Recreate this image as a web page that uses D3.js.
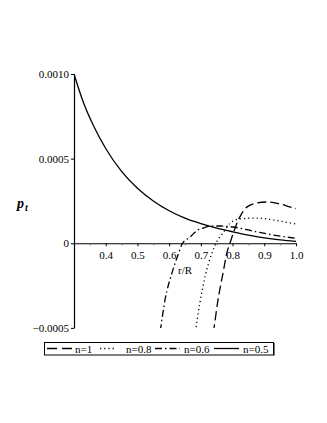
<!DOCTYPE html>
<html lang="en">
<head>
    <meta charset="UTF-8">
    <title>p_t versus r/R</title>
    <script src="https://d3js.org/d3.v7.min.js"></script>
    <style>
        body { margin: 0; background: #fff; }
        text { font-family: "Liberation Serif", "Times New Roman", serif; }
    </style>
</head>
<body>
    <div id="chart"></div>

    <script>
        // Data (p_t values)
        var rSolid = [0.30, 0.33, 0.36, 0.40, 0.45, 0.50, 0.55, 0.60, 0.65, 0.70, 0.75, 0.80, 0.85, 0.90, 0.95, 1.0];
        var pSolid = [0.001, 0.00083, 0.00070, 0.00056, 0.000425, 0.000325, 0.000250, 0.000192, 0.000148, 0.000116, 0.000090, 0.000068, 0.000048, 0.000032, 0.000020, 0.000011];

        var rDash = [0.739, 0.7415, 0.754, 0.770, 0.782, 0.792, 0.808, 0.823, 0.846, 0.877, 0.912, 0.950, 0.991, 1.0];
        var pDash = [-0.00053, -0.000500, -0.000335, -0.000175, -0.000057, 0.000002, 0.000090, 0.000156, 0.000215, 0.000238, 0.000244, 0.000232, 0.000209, 0.000205];

        var rDot = [0.683, 0.697, 0.713, 0.735, 0.748, 0.770, 0.792, 0.823, 0.877, 0.928, 0.981, 1.0];
        var pDot = [-0.00052, -0.000352, -0.000199, -0.000057, 0.000002, 0.000061, 0.000118, 0.000144, 0.000149, 0.000138, 0.000120, 0.000114];

        var rDashDot = [0.572, 0.587, 0.609, 0.628, 0.641, 0.666, 0.691, 0.707, 0.738, 0.760, 0.801, 0.877, 0.928, 0.981, 1.0];
        var pDashDot = [-0.00052, -0.000335, -0.000175, -0.000069, -0.000004, 0.000037, 0.000079, 0.000090, 0.000102, 0.000102, 0.000096, 0.000067, 0.000049, 0.000034, 0.000030];

        var seriesNames = ["n=1", "n=0.8", "n=0.6", "n=0.5"];
        var xTicks = [0.4, 0.5, 0.6, 0.7, 0.8, 0.9, 1.0];
        var xMinorTicks = [0.35, 0.45, 0.55, 0.65, 0.75, 0.85, 0.95];
        var yTicks = [-0.0005, 0, 0.0005, 0.001];
        var yTickLabels = ["\u22120.0005", "0", "0.0005", "0.0010"];

        var width = 327, height = 423;
        var svg = d3.select("#chart").append("svg")
            .attr("width", width)
            .attr("height", height);

        svg.append("rect").attr("width", width).attr("height", height).attr("fill", "#fff");

        var x = d3.scaleLinear().domain([0.3, 1.0]).range([74, 296]);
        var y = d3.scaleLinear().domain([-0.0005, 0.001]).range([327.9, 74]);

        // clip to the view range
        svg.append("clipPath").attr("id", "plot-clip")
            .append("rect")
            .attr("x", x(0.3)).attr("y", y(0.001) - 1)
            .attr("width", x(1.0) - x(0.3) + 1)
            .attr("height", y(-0.0005) - y(0.001) + 1);

        // x axis at p = 0
        var xAxis = svg.append("g")
            .attr("transform", "translate(0," + y(0) + ")")
            .call(d3.axisBottom(x).tickValues(xTicks).tickSize(3).tickSizeOuter(0).tickPadding(5)
                .tickFormat(d3.format(".1f")));
        xAxis.select(".domain").attr("stroke-width", 1.2);
        xAxis.selectAll("text").attr("font-size", 11).attr("font-family", "Liberation Serif");

        svg.append("g")
            .attr("transform", "translate(0," + y(0) + ")")
            .call(d3.axisBottom(x).tickValues(xMinorTicks).tickSize(2).tickSizeOuter(0).tickFormat(""))
            .call(function (g) { g.selectAll("line").attr("stroke", "#666"); })
            .select(".domain").remove();

        // y axis
        var yAxis = svg.append("g")
            .attr("transform", "translate(" + x(0.3) + ",0)")
            .call(d3.axisLeft(y).tickValues(yTicks).tickSize(3).tickSizeOuter(0).tickPadding(2)
                .tickFormat(function (d, i) { return yTickLabels[i]; }));
        yAxis.select(".domain").attr("stroke-width", 1.2);
        yAxis.selectAll("text").attr("font-size", 11).attr("font-family", "Liberation Serif");

        // axis titles
        svg.append("text")
            .attr("x", 178).attr("y", 274)
            .attr("font-size", 11)
            .text("r/R");

        var pLabel = svg.append("text")
            .attr("x", 17).attr("y", 208)
            .attr("font-size", 14)
            .attr("font-weight", "bold")
            .attr("font-style", "italic");
        pLabel.append("tspan").text("p");
        pLabel.append("tspan").attr("font-size", 10).attr("dx", 1).attr("dy", 3).text("t");

        // curves
        var curves = [
            { r: rDash, p: pDash, dash: "9,4" },
            { r: rDot, p: pDot, dash: "1.2,3" },
            { r: rDashDot, p: pDashDot, dash: "7,3,1.5,3" },
            { r: rSolid, p: pSolid, dash: null }
        ];

        var line = d3.line()
            .x(function (d) { return x(d[0]); })
            .y(function (d) { return y(d[1]); })
            .curve(d3.curveMonotoneX);

        var plot = svg.append("g").attr("clip-path", "url(#plot-clip)");
        curves.forEach(function (c) {
            plot.append("path")
                .datum(d3.zip(c.r, c.p))
                .attr("fill", "none")
                .attr("stroke", "#000")
                .attr("stroke-width", 1.3)
                .attr("stroke-dasharray", c.dash)
                .attr("d", line);
        });

        // legend
        var legend = svg.append("g");
        legend.append("rect")
            .attr("x", 44.5).attr("y", 342.5)
            .attr("width", 229).attr("height", 12.5)
            .attr("fill", "#fff").attr("stroke", "#000").attr("stroke-width", 1);
        legend.append("line")
            .attr("x1", 274.5).attr("x2", 274.5).attr("y1", 343).attr("y2", 355.5)
            .attr("stroke", "#777").attr("stroke-width", 1);

        var legendLines = [[47, 72], [100, 116], [155, 180], [214, 239]];
        var legendDash = ["10,5", "1.2,3", "7,3,1.5,3", null];
        var legendText = [75, 126, 184, 243];
        seriesNames.forEach(function (name, i) {
            legend.append("line")
                .attr("x1", legendLines[i][0]).attr("x2", legendLines[i][1])
                .attr("y1", 348.5).attr("y2", 348.5)
                .attr("stroke", "#000").attr("stroke-width", 1.3)
                .attr("stroke-dasharray", legendDash[i]);
            legend.append("text")
                .attr("x", legendText[i]).attr("y", 352.5)
                .attr("font-size", 11)
                .text(name);
        });
    </script>
</body>
</html>
